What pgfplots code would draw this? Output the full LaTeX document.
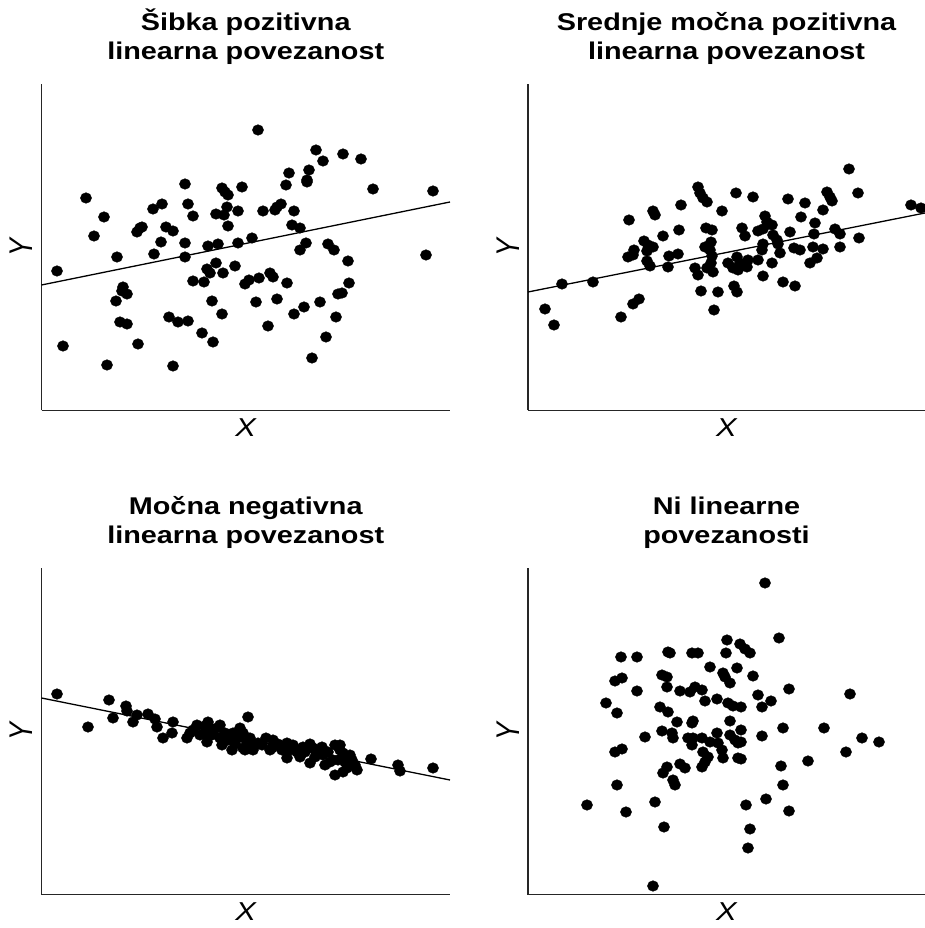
\documentclass[border=0pt]{standalone}
\usepackage{pgfplots}
\pgfplotsset{compat=1.18}
\usepackage{fontspec}
\setmainfont{Liberation Sans}
\newfontfamily\widefont{Liberation Sans}[FakeStretch=1.19]

% common look of the four scatter panels (no ticks, left and bottom spines only)
\pgfplotsset{
  panel/.style={
    scale only axis, clip=false, anchor=south west,
    axis x line=bottom, axis y line=left,
    axis line style={-, line width=1.3bp, black!85},
    xtick=\empty, ytick=\empty,
    y filter/.expression={-y},
    every axis x label/.style={at={(axis description cs:0.5,-0.0536)}, anchor=center,
      font=\widefont\itshape\fontsize{26}{26}\selectfont},
    every axis y label/.style={at={(axis description cs:-0.0502,0.5)}, anchor=center, rotate=90},
    xlabel={X},
    ylabel={\scalebox{1}[1.22]{\itshape\fontsize{27}{27}\selectfont Y}},
    every axis title/.style={at={(axis description cs:0.5,1)}, anchor=south, align=center,
      inner sep=0pt, yshift=19bp,
      font=\widefont\bfseries\fontsize{24.3}{29}\selectfont},
  },
  dots/.style={only marks, mark=*, mark size=5.3bp, black, mark options={xscale=1.05}},
  fit/.style={no marks, black, line width=1.3bp},
}

\begin{document}
\begin{tikzpicture}
\useasboundingbox (0,0) rectangle (925bp,928bp);

% ---------- weak positive ----------
\begin{axis}[panel, at={(41.5bp,517.5bp)}, width=408.5bp, height=326.5bp,
  xmin=41.5, xmax=450, ymin=-410.5, ymax=-84,
  title={Šibka pozitivna\\linearna povezanost}]
\addplot[dots] table {
x y
185 184
86 198
222 188
225 192
228 195
242 187
104 217
153 209
162 204
188 204
193 216
216 214
227 207
224 215
238 211
228 226
94 236
137 232
140 228
142 227
166 227
173 231
161 242
185 243
208 246
218 244
238 243
252 238
117 257
154 254
185 257
57 271
207 269
210 273
216 263
223 273
235 266
193 281
204 282
245 284
123 287
122 291
127 294
116 301
212 301
222 314
120 322
127 324
169 317
178 322
188 321
202 333
213 342
63 346
138 344
107 365
173 366
258 130
316 150
323 161
343 154
361 159
289 173
309 170
307 180
307 182
286 185
373 189
433 191
263 211
275 210
281 204
277 207
294 211
292 225
300 228
306 243
300 250
328 244
334 250
348 261
426 255
249 280
259 278
270 273
273 277
287 283
256 302
277 299
294 314
304 307
320 302
338 294
342 293
349 283
336 317
268 326
326 337
312 358
};
\addplot[fit] coordinates {(41.5,285) (450,202)};
\end{axis}

% ---------- moderate positive ----------
\begin{axis}[panel, at={(528bp,517.5bp)}, width=397bp, height=326.5bp,
  xmin=528, xmax=925, ymin=-410.5, ymax=-84,
  title={Srednje močna pozitivna\\linearna povezanost}]
\addplot[dots] table {
x y
698 187
700 193
703 198
707 202
681 205
653 211
655 215
629 220
722 211
663 236
679 230
706 228
712 230
644 241
648 245
653 247
647 251
634 250
628 257
633 255
669 256
678 254
705 247
711 242
710 250
647 261
650 266
668 267
712 256
711 263
707 268
713 272
695 268
698 275
562 284
593 282
701 291
718 292
639 299
633 304
545 309
714 310
621 317
554 325
849 169
736 193
753 197
788 199
805 203
827 192
830 197
832 201
858 193
823 210
801 217
911 205
921 208
765 216
767 222
772 225
742 228
745 236
758 231
763 229
773 235
777 240
778 244
790 232
815 223
814 234
835 229
840 234
859 238
763 244
762 250
794 248
800 250
813 247
823 249
840 247
780 253
728 263
737 257
740 263
748 260
733 268
738 270
758 260
747 267
772 263
810 263
817 258
763 276
783 282
795 286
734 286
737 292
};
\addplot[fit] coordinates {(528,292) (925,213)};
\end{axis}

% ---------- strong negative ----------
\begin{axis}[panel, at={(41.5bp,33.5bp)}, width=408.5bp, height=326.5bp,
  xmin=41.5, xmax=450, ymin=-894.5, ymax=-568,
  title={Močna negativna\\linearna povezanost}]
\addplot[dots] table {
x y
57 694
88 727
109 700
113 718
126 706
127 711
137 715
133 722
148 714
155 719
157 727
173 722
163 738
172 733
187 738
197 725
193 730
208 722
205 733
207 742
217 728
220 738
222 745
232 750
233 733
240 728
248 717
243 748
243 733
247 742
245 750
253 750
258 743
273 740
272 748
287 743
290 750
287 758
303 747
297 752
313 748
322 747
315 757
310 763
323 755
335 745
340 750
343 753
333 760
338 760
352 760
357 770
347 768
335 775
343 772
371 759
398 765
400 771
433 768
200 735
212 735
225 733
228 740
238 738
250 738
262 745
266 738
278 744
282 750
293 745
305 752
318 750
328 752
330 762
345 762
350 755
355 765
325 765
300 757
210 728
235 744
255 745
270 750
310 744
340 745
220 725
205 726
190 733
};
\addplot[fit] coordinates {(41.5,698) (450,780)};
\end{axis}

% ---------- no linear relation ----------
\begin{axis}[panel, at={(528bp,33.5bp)}, width=397bp, height=326.5bp,
  xmin=528, xmax=925, ymin=-894.5, ymax=-568,
  title={Ni linearne\\povezanosti}]
\addplot[dots] table {
x y
727 640
740 644
745 649
750 653
621 657
637 657
668 652
670 653
692 653
698 653
726 653
710 667
737 668
723 673
725 677
730 683
662 675
667 677
615 681
622 678
637 691
667 687
680 691
690 692
695 687
702 690
705 701
717 699
728 703
733 706
741 707
606 703
617 713
660 707
668 712
677 722
693 721
692 723
730 721
741 730
662 731
672 733
673 738
645 737
688 738
692 745
693 738
702 738
710 742
717 733
718 743
722 750
730 735
735 740
738 743
703 752
708 757
705 762
702 767
723 758
738 758
615 752
622 749
667 767
663 773
680 764
685 768
673 780
675 785
617 785
587 805
626 812
655 802
664 827
746 805
750 829
748 848
653 886
765 583
779 638
753 676
789 689
850 694
758 695
762 707
771 701
783 728
824 728
762 736
741 742
741 759
862 738
879 742
846 752
808 761
781 766
783 785
766 799
789 811
};
\end{axis}
\end{tikzpicture}
\end{document}
